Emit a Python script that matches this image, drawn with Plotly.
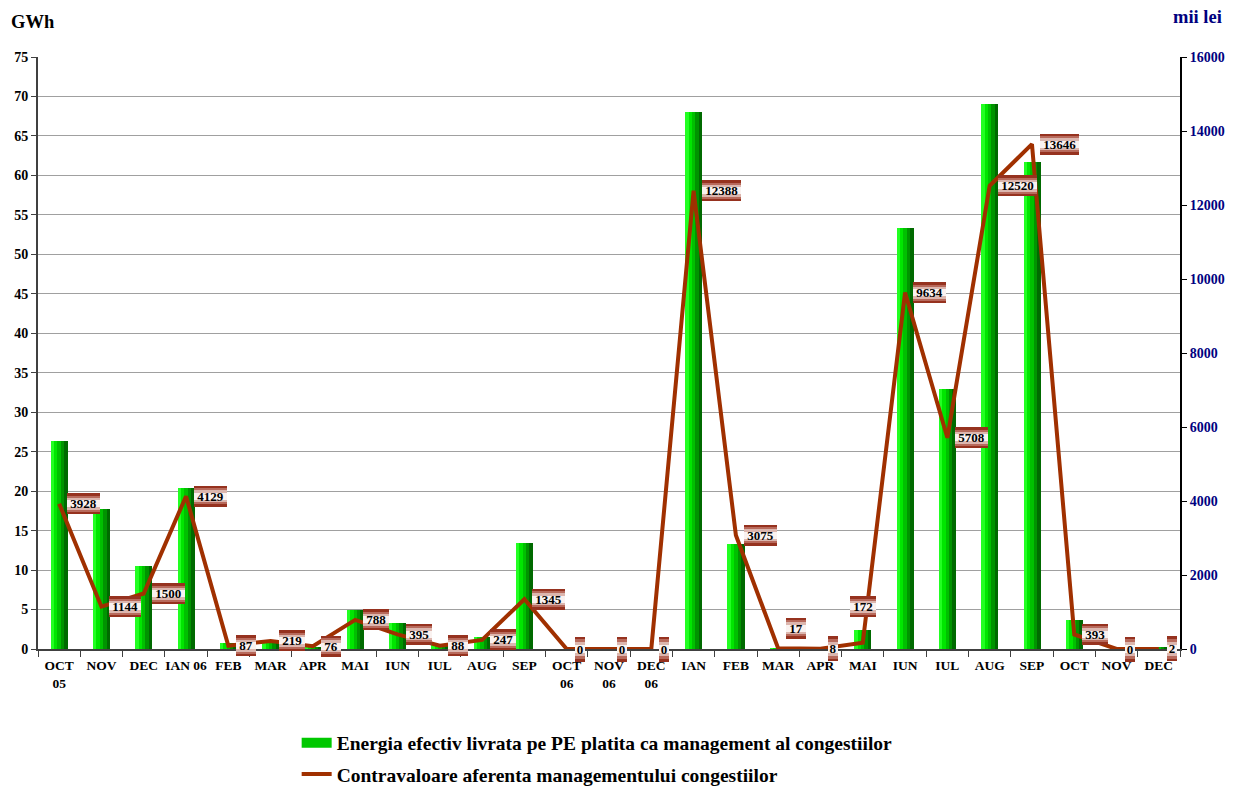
import plotly.graph_objects as go

months = ["OCT<br>05", "NOV", "DEC", "IAN 06", "FEB", "MAR", "APR", "MAI", "IUN", "IUL", "AUG", "SEP",
          "OCT<br>06", "NOV<br>06", "DEC<br>06", "IAN", "FEB", "MAR", "APR", "MAI", "IUN", "IUL", "AUG", "SEP",
          "OCT", "NOV", "DEC"]
energy_gwh = [26.3, 17.7, 10.5, 20.4, 0.7, 0.8, 0.3, 5.0, 3.3, 0.5, 1.5, 13.4,
              0, 0, 0, 68.0, 13.3, 0.1, 0.05, 2.4, 53.4, 33.0, 69.0, 61.7,
              3.7, 0, 0.2]
value_mii_lei = [3928, 1144, 1500, 4129, 87, 219, 76, 788, 395, 88, 247, 1345,
                 0, 0, 0, 12388, 3075, 17, 8, 172, 9634, 5708, 12520, 13646,
                 393, 0, 2]
left_ticks = list(range(0, 80, 5))
right_ticks = list(range(0, 18000, 2000))

xs = list(range(len(months)))
SERIF = "Liberation Serif"
BROWN = "#A03000"
NAME_E = "Energia efectiv livrata pe PE platita ca management al congestiilor"
NAME_V = "Contravaloare aferenta managementului congestiilor"

fig = go.Figure()

# gradient-like bars built from slices
slice_colors = ["#22ff22", "#00e600", "#00c000", "#009400", "#006a00"]
n = len(slice_colors)
total_w = 0.40
sw = total_w / n
for i, c in enumerate(slice_colors):
    fig.add_trace(go.Bar(
        x=xs, y=energy_gwh, width=[sw + 0.004] * len(xs),
        offset=-total_w / 2 + i * sw,
        marker=dict(color=c, line=dict(width=0)),
        name=NAME_E, showlegend=False, hoverinfo="skip", yaxis="y"))

# legend-only entry for bars (wide rectangle look)
fig.add_trace(go.Scatter(x=[None], y=[None], mode="lines", line=dict(color="#00c800", width=14),
                         name=NAME_E, showlegend=True, yaxis="y", legendgroup="a"))

fig.add_trace(go.Scatter(x=xs, y=value_mii_lei, mode="lines", yaxis="y2",
                         line=dict(color=BROWN, width=4), name=NAME_V, legendgroup="b"))

# data labels: layered boxes imitate the brown-white-brown vertical gradient
layers = [(1.0, "#96321f"), (0.78, "#b86a5c"), (0.55, "#dcb6ae"), (0.32, "#faf2f0")]
for i, v in enumerate(value_mii_lei):
    base = dict(x=xs[i], y=v, xref="x", yref="y2", text=str(v), showarrow=False,
                xanchor="left", yanchor="middle", xshift=8, yshift=0, borderpad=0,
                borderwidth=0)
    h = 21
    w = None
    if v in (0, 2, 8):
        h, w = 25, 10
    if i == 17:  # 17
        base.update(yshift=20)
    if i == 19:  # 172
        base.update(xanchor="center", xshift=0, yshift=36)
    for frac, col in layers:
        a = dict(base)
        a.update(font=dict(family=SERIF, size=13, color="rgba(0,0,0,0)", weight="bold"),
                 bgcolor=col, height=max(2, round(h * frac)))
        if w is not None:
            a["width"] = w
        else:
            a["text"] = "&nbsp;" + str(v) + "&nbsp;"
        fig.add_annotation(**a)
    a = dict(base)
    a.update(font=dict(family=SERIF, size=13, color="black", weight="bold"),
             bgcolor="rgba(0,0,0,0)", height=h)
    if w is not None:
        a["width"] = w
    else:
        a["text"] = "&nbsp;" + str(v) + "&nbsp;"
    fig.add_annotation(**a)

fig.add_annotation(x=-0.025, y=1.059, xref="paper", yref="paper", text="GWh", showarrow=False,
                   xanchor="left", yanchor="middle",
                   font=dict(family=SERIF, size=18.5, color="black", weight="bold"))
fig.add_annotation(x=1.015, y=1.068, xref="paper", yref="paper", text="mii lei", showarrow=False,
                   xanchor="center", yanchor="middle",
                   font=dict(family=SERIF, size=18.5, color="#000080", weight="bold"))

fig.update_layout(
    width=1229, height=779,
    margin=dict(l=30, r=57, t=49, b=138, autoexpand=False),
    paper_bgcolor="white", plot_bgcolor="white",
    barmode="overlay", bargap=0,
    font=dict(family=SERIF, color="black"),
    xaxis=dict(range=[-0.5, len(months) - 0.5], tickmode="array", tickvals=xs, ticktext=months,
               ticks="", showgrid=False, zeroline=False, showline=True, linecolor="#404040", linewidth=2,
               automargin=False, ticklabelstandoff=3,
               tickfont=dict(family=SERIF, size=13.5, color="black", weight="bold"),
               minor=dict(tickmode="linear", tick0=-0.5, dtick=1, ticks="outside", ticklen=6,
                          tickcolor="#404040", showgrid=False)),
    yaxis=dict(range=[0, 75], tickmode="array", tickvals=left_ticks, showgrid=True,
               gridcolor="#a0a0a0", gridwidth=1, zeroline=False, showline=True, linecolor="#404040",
               linewidth=2, ticks="outside", ticklen=5, tickcolor="#404040", automargin=False,
               tickfont=dict(family=SERIF, size=14, color="black", weight="bold")),
    yaxis2=dict(range=[0, 16000], tickmode="array", tickvals=right_ticks,
                ticktext=[str(t) for t in right_ticks], overlaying="y", side="right",
                showgrid=False, zeroline=False, showline=True, linecolor="black", linewidth=2,
                ticks="outside", ticklen=5, tickcolor="black", automargin=False,
                tickfont=dict(family=SERIF, size=14, color="#000080", weight="bold")),
    legend=dict(x=0.2265, y=-0.126, xanchor="left", yanchor="top", orientation="v",
                font=dict(family=SERIF, size=19.5, color="black", weight="bold"),
                bgcolor="rgba(0,0,0,0)", tracegroupgap=3, itemwidth=30),
    showlegend=True,
)

fig.write_html("out.html")
